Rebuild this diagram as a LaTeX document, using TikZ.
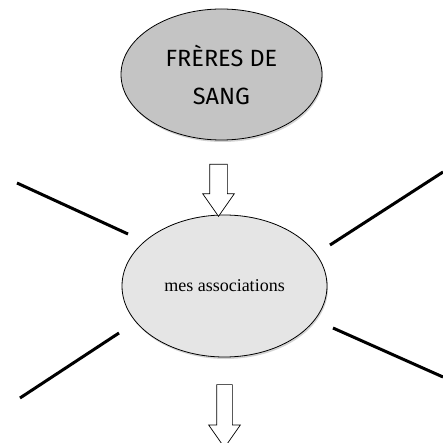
\documentclass[tikz,border=0pt]{standalone}
\usepackage{fontspec}
\usetikzlibrary{shapes.geometric,shapes.arrows,shadows}
\newfontfamily\titlefont{Fira Sans}
\newfontfamily\assocfont{Liberation Serif}

\begin{document}
\begin{tikzpicture}[x=1pt,y=-1pt,
    bulle/.style={ellipse, draw=black, line width=0.8pt, inner sep=0pt,
        drop shadow={opacity=0.35, shadow xshift=1pt, shadow yshift=-2pt}},
    bloc/.style={single arrow, draw=black, fill=white, line width=0.7pt,
        rotate=-90, inner xsep=0pt, single arrow tip angle=70},
    trait/.style={line width=3pt, black}]
    \useasboundingbox (0,0) rectangle (443,443);
    % bulles
    \node[bulle, fill=black!23, minimum width=201pt, minimum height=131pt,
        align=center, font=\titlefont\fontsize{23.5}{38}\selectfont]
        (freres) at (221.5,74.5) {FRÈRES DE\\SANG};
    \node[bulle, fill=black!10, minimum width=205pt, minimum height=142pt,
        font=\assocfont\fontsize{18}{20}\selectfont]
        (assoc) at (224.5,286) {mes associations};
    % fleches
    \node[bloc, minimum height=52pt, inner ysep=8.5pt, single arrow head extend=7pt] (flecheA) at (218.5,184) {};
    \node[bloc, minimum height=63pt, inner ysep=7.5pt, single arrow head extend=8pt] (flecheB) at (224.5,410.5) {};
    % traits
    \coordinate (hg1) at (17,183);   \coordinate (hg2) at (128,234);
    \coordinate (hd1) at (330,245);  \coordinate (hd2) at (443,172);
    \coordinate (bg1) at (119,333);  \coordinate (bg2) at (20,398);
    \coordinate (bd1) at (333,328);  \coordinate (bd2) at (443,377);
    \draw[trait] (hg1) -- (hg2);
    \draw[trait] (hd1) -- (hd2);
    \draw[trait] (bg1) -- (bg2);
    \draw[trait] (bd1) -- (bd2);
\end{tikzpicture}
\end{document}
